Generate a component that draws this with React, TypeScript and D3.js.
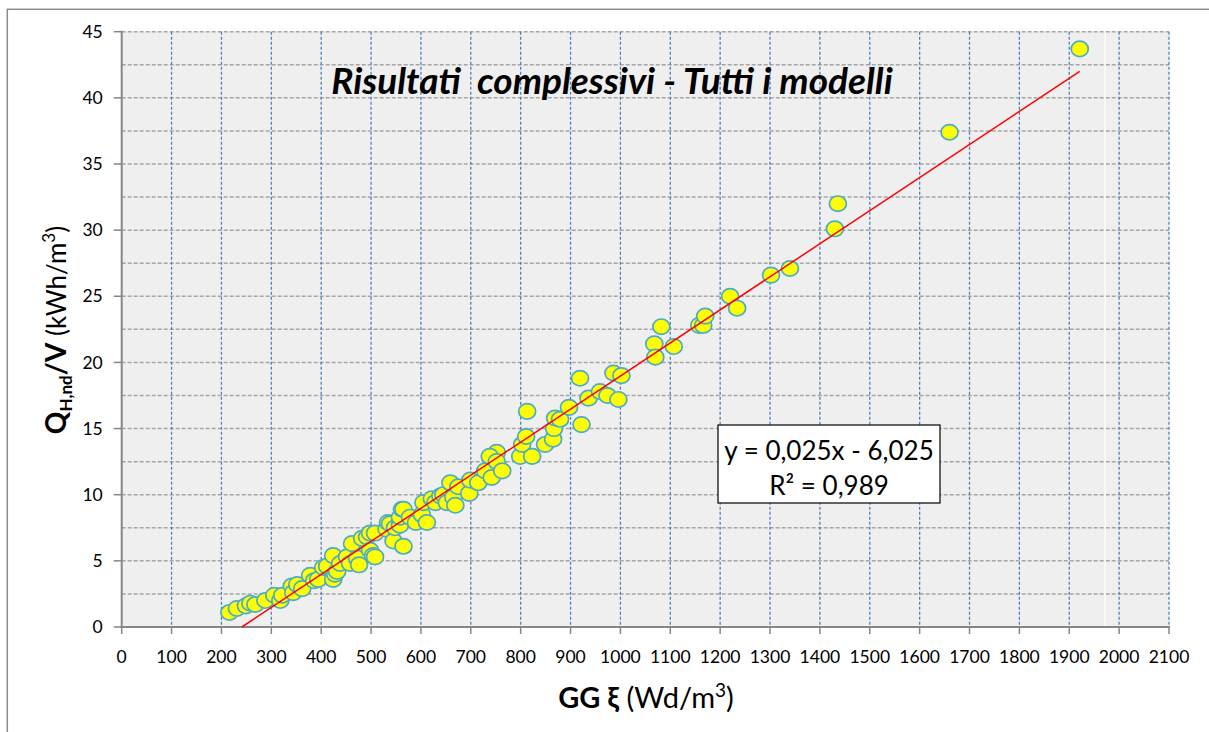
import * as d3 from "d3";

// GG xi (Wd/m3) vs QH,nd/V (kWh/m3)
const ggValues = [
  216, 231, 249, 258, 268, 288, 306, 318, 322, 341, 344, 352, 362, 378, 386, 394,
  404, 412, 424, 424, 428, 432, 438, 452, 458, 462, 472, 476, 482, 492, 498, 498,
  504, 508, 508, 531, 534, 538, 545, 548, 558, 558, 562, 565, 565, 578, 590, 602,
  605, 612, 622, 629, 639, 645, 652, 659, 665, 669, 675, 697, 699, 715, 729, 742,
  752, 738, 752, 763, 799, 803, 811, 813, 823, 849, 865, 867, 869, 879, 897, 922,
  919, 936, 959, 974, 986, 996, 1002, 1068, 1070, 1082, 1107, 1158, 1166, 1170,
  1220, 1234, 1302, 1340, 1430, 1436, 1660, 1921,
];
const qValues = [
  1.1, 1.4, 1.6, 1.8, 1.7, 2.0, 2.4, 2.0, 2.4, 3.1, 2.6, 3.2, 2.9, 3.9, 3.5, 3.6,
  4.5, 4.6, 5.4, 3.6, 4.0, 4.2, 4.8, 5.3, 4.8, 6.3, 5.2, 4.7, 6.7, 6.8, 5.8, 7.1,
  5.4, 5.3, 7.1, 7.4, 7.9, 7.8, 6.5, 7.5, 7.7, 8.3, 8.9, 6.1, 8.9, 8.3, 7.9, 8.5,
  9.4, 7.9, 9.7, 9.4, 9.9, 10.0, 9.4, 10.9, 9.8, 9.2, 10.6, 10.1, 11.1, 10.9, 11.8, 11.3,
  13.2, 12.9, 12.5, 11.8, 12.9, 13.8, 14.4, 16.3, 12.9, 13.8, 14.2, 15.0, 15.8, 15.7, 16.6, 15.3,
  18.8, 17.3, 17.8, 17.5, 19.2, 17.2, 19.0, 21.4, 20.4, 22.7, 21.2, 22.8, 22.8, 23.5,
  25.0, 24.1, 26.6, 27.1, 30.1, 32.0, 37.4, 43.7,
];

const xTicks = d3.range(0, 2101, 100);
const yTicks = d3.range(0, 46, 5);
const yMinor = d3.range(2.5, 46, 2.5);

const slope = 0.025;
const intercept = -6.025;
const trendX = [241, 1921];

const title = "Risultati  complessivi - Tutti i modelli";
const eqLines = ["y = 0,025x - 6,025", "R² = 0,989"];

const W = 1209;
const H = 732;
const left = 121.7;
const right = 1169;
const top = 31.7;
const bottom = 627;

const App = () => {
  const x = d3.scaleLinear().domain([0, 2100]).range([left, right]);
  const y = d3.scaleLinear().domain([0, 45]).range([bottom, top]);
  const points = ggValues.map((g, i) => ({ g, q: qValues[i] }));
  const line = d3
    .line<number>()
    .x((d) => x(d))
    .y((d) => y(slope * d + intercept));
  const font = "Lato, 'Open Sans', sans-serif";

  return (
    <svg
      width={W}
      height={H}
      style={{ position: "absolute", left: 0, top: 0, background: "#fff" }}
      fontFamily={font}
    >
      <rect x={7.3} y={9.3} width={1210} height={730} fill="#fff" stroke="#8c8c8c" strokeWidth={1.5} />
      <rect x={left} y={top} width={right - left} height={bottom - top} fill="#efefef" />

      {yMinor.map((v) => (
        <line key={"h" + v} x1={left} x2={right} y1={y(v)} y2={y(v)} stroke="#a6a6a6" strokeWidth={1.5} strokeDasharray="4,2" />
      ))}
      <line x1={x(1972)} x2={x(1972)} y1={top} y2={bottom} stroke="#ffffff" strokeWidth={1.2} />
      {xTicks.slice(1).map((v) => (
        <line key={"v" + v} x1={x(v)} x2={x(v)} y1={top} y2={bottom} stroke="#4f81bd" strokeWidth={1.3} strokeDasharray="3,2" />
      ))}

      {/* axes */}
      <line x1={left} x2={left} y1={top - 1} y2={bottom + 1} stroke="#868686" strokeWidth={2} />
      <line x1={left - 1} x2={right + 1} y1={bottom} y2={bottom} stroke="#868686" strokeWidth={2} />
      {yTicks.map((v) => (
        <g key={"yt" + v}>
          <line x1={left - 8} x2={left} y1={y(v)} y2={y(v)} stroke="#868686" strokeWidth={1.5} />
          <text x={left - 19} y={y(v)} dy="0.35em" textAnchor="end" fontSize={17.5} fill="#000">
            {v}
          </text>
        </g>
      ))}
      {xTicks.map((v) => (
        <g key={"xt" + v}>
          <line x1={x(v)} x2={x(v)} y1={bottom} y2={bottom + 7} stroke="#868686" strokeWidth={1.5} />
          <text x={x(v)} y={bottom + 36} textAnchor="middle" fontSize={17.5} fill="#000">
            {v}
          </text>
        </g>
      ))}

      {/* points */}
      {points.map((p, i) => (
        <ellipse
          key={i}
          cx={x(p.g)}
          cy={y(p.q)}
          rx={8.5}
          ry={7.7}
          fill="#ffff00"
          stroke="#4bacc6"
          strokeWidth={1.7}
        />
      ))}

      <path d={line(trendX) ?? ""} fill="none" stroke="#ff0000" strokeWidth={1.5} />

      {/* title */}
      <text
        x={612}
        y={94}
        textAnchor="middle"
        fontSize={37}
        fontWeight="bold"
        fontStyle="italic"
        fill="#000"
        style={{ whiteSpace: "pre" }}
      >
        {title}
      </text>

      {/* equation box */}
      <rect x={718} y={425} width={222} height={78} fill="#fff" stroke="#000" strokeWidth={1.2} />
      <text x={829} y={460} textAnchor="middle" fontSize={26} fill="#000">
        {eqLines[0]}
      </text>
      <text x={829} y={495} textAnchor="middle" fontSize={26} fill="#000">
        {eqLines[1]}
      </text>

      {/* axis titles */}
      <text x={646} y={708} textAnchor="middle" fontSize={29} fill="#000">
        <tspan fontWeight="bold">GG ξ</tspan>
        <tspan> (Wd/m</tspan>
        <tspan fontSize={19} dy={-11}>3</tspan>
        <tspan dy={11}>)</tspan>
      </text>
      <text transform="translate(66,330) rotate(-90)" textAnchor="middle" fontSize={28} fill="#000">
        <tspan fontWeight="bold">Q</tspan>
        <tspan fontWeight="bold" fontSize={17} dy={6}>H,nd</tspan>
        <tspan fontWeight="bold" dy={-6}>/V</tspan>
        <tspan fontSize={26}> (kWh/m</tspan>
        <tspan fontSize={17} dy={-11}>3</tspan>
        <tspan fontSize={26} dy={11}>)</tspan>
      </text>
    </svg>
  );
};

export default App;
